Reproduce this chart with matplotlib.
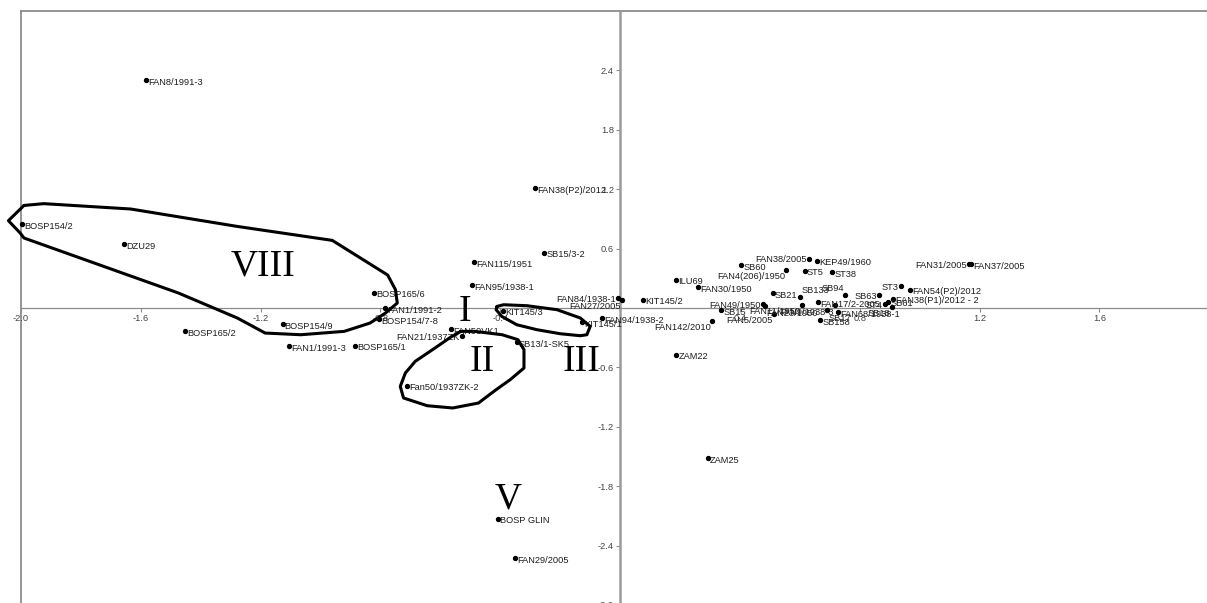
import matplotlib.pyplot as plt
import numpy as np

# factor scores of the samples (F1, F2)
names = [
    "FAN8/1991-3", "FAN38(P2)/2012", "BOSP154/2", "DZU29", "SB15/3-2",
    "FAN115/1951", "FAN95/1938-1", "BOSP165/6", "FAN84/1938-1", "FAN27/2005",
    "KIT145/2", "FAN1/1991-2", "BOSP154/7-8", "BOSP154/9", "BOSP165/2",
    "FAN1/1991-3", "BOSP165/1", "FAN50VK1", "FAN21/1937ZK", "KIT145/3",
    "SB13/1-SK5", "KIT145/1", "FAN94/1938-2", "Fan50/1937ZK-2", "BOSP GLIN",
    "FAN29/2005", "ZAM22", "ZAM25", "FAN142/2010", "SB15",
    "FAN5/2005", "FAN49/1950", "FAN23/1950", "ILU69", "FAN30/1950",
    "SB60", "FAN4(206)/1950", "FAN38/2005", "KEP49/1960", "ST5",
    "ST38", "SB21", "SB133", "SB94", "SB63",
    "ST3", "FAN54(P2)/2012", "FAN38(P1)/2012 - 2", "SB61", "ST4",
    "SB18", "FAN31/2005", "FAN37/2005", "SB158", "SB17",
    "FAN11/1950", "FAN17/2-2005", "FAN9/1938-3", "FAN68/1938-1",
]
f1 = [
    -1.583, -0.284, -1.995, -1.656, -0.254,
    -0.487, -0.493, -0.821, -0.008, 0.006,
    0.075, -0.785, -0.805, -1.127, -1.453,
    -1.106, -0.884, -0.563, -0.528, -0.391,
    -0.345, -0.128, -0.059, -0.713, -0.407,
    -0.350, 0.188, 0.293, 0.308, 0.338,
    0.513, 0.478, 0.482, 0.186, 0.259,
    0.404, 0.555, 0.632, 0.657, 0.616,
    0.708, 0.509, 0.600, 0.751, 0.865,
    0.937, 0.968, 0.912, 0.894, 0.884,
    0.906, 1.165, 1.170, 0.668, 0.691,
    0.606, 0.662, 0.717, 0.726,
]
f2 = [
    2.300, 1.210, 0.850, 0.646, 0.559,
    0.465, 0.228, 0.155, 0.100, 0.084,
    0.084, 0.000, -0.110, -0.162, -0.236,
    -0.388, -0.381, -0.212, -0.287, -0.027,
    -0.347, -0.141, -0.101, -0.785, -2.128,
    -2.529, -0.472, -1.515, -0.128, -0.024,
    -0.057, 0.043, 0.018, 0.286, 0.208,
    0.434, 0.384, 0.500, 0.478, 0.377,
    0.363, 0.151, 0.114, 0.135, 0.134,
    0.225, 0.185, 0.094, 0.064, 0.043,
    0.010, 0.445, 0.440, -0.121, -0.024,
    0.033, 0.057, 0.026, -0.040,
]

# where a label sits relative to its point (default: right)
label_pos = {
    "FAN84/1938-1": "l", "FAN27/2005": "lb", "FAN21/1937ZK": "l",
    "FAN142/2010": "lb", "FAN5/2005": "lb", "FAN49/1950": "l",
    "FAN23/1950": "rb", "FAN4(206)/1950": "lb", "FAN38/2005": "l",
    "SB133": "ra", "SB94": "la", "SB63": "l", "ST3": "l", "ST4": "l",
    "SB18": "lb", "FAN31/2005": "l", "SB17": "rb", "FAN11/1950": "lb",
    "FAN9/1938-3": "lb", "FAN17/2-2005": "r",
}
offsets = {
    "r": ((1.6, -1.6), "left"), "l": ((-1.6, -1.0), "right"),
    "rb": ((1.2, -5.5), "left"), "lb": ((-1.0, -5.0), "right"),
    "ra": ((1.0, 4.5), "left"), "la": ((-1.0, 4.5), "right"),
}

# hand-drawn group outlines
group_viii = np.array([
    (-1.990, 1.036), (-1.924, 1.054), (-1.634, 1.000), (-1.278, 0.824),
    (-0.961, 0.683), (-0.776, 0.333), (-0.750, 0.185), (-0.744, 0.050),
    (-0.783, -0.050), (-0.835, -0.152), (-0.921, -0.236), (-1.066, -0.270),
    (-1.185, -0.253), (-1.278, -0.101), (-1.475, 0.152), (-1.990, 0.707),
    (-2.003, 0.758), (-2.042, 0.882), (-1.990, 1.036),
])
group_ii = np.array([
    (-0.532, -0.236), (-0.486, -0.236), (-0.394, -0.270), (-0.341, -0.320),
    (-0.321, -0.421), (-0.321, -0.606), (-0.367, -0.724), (-0.414, -0.825),
    (-0.473, -0.960), (-0.559, -1.010), (-0.644, -0.987), (-0.723, -0.909),
    (-0.734, -0.792), (-0.717, -0.657), (-0.684, -0.539), (-0.618, -0.404),
    (-0.565, -0.293), (-0.532, -0.236),
])
group_iii = np.array([
    (-0.411, 0.016), (-0.389, 0.033), (-0.311, 0.023), (-0.211, -0.017),
    (-0.133, -0.101), (-0.100, -0.186), (-0.111, -0.270), (-0.133, -0.280),
    (-0.200, -0.260), (-0.278, -0.219), (-0.345, -0.169), (-0.395, -0.085),
    (-0.414, -0.017), (-0.411, 0.016),
])
group_names = ["VIII", "I", "II", "III", "V"]
group_x = [-1.191, -0.519, -0.460, -0.130, -0.374]
group_y = [0.418, -0.042, -0.539, -0.539, -1.936]

xticks = [-2.0, -1.6, -1.2, -0.8, -0.4, 0.4, 0.8, 1.2, 1.6]
yticks = [-3.0, -2.4, -1.8, -1.2, -0.6, 0.6, 1.2, 1.8, 2.4]

plt.rcParams['font.family'] = ['Liberation Sans', 'DejaVu Sans']

fig = plt.figure(figsize=(12.07, 6.03), dpi=100)
pos = [21 / 1207, -2 / 603, 1186 / 1207, 594 / 603]

# outer frame: only the left and top edges show
frame = fig.add_axes(pos)
frame.set_xticks([])
frame.set_yticks([])
for side, s in frame.spines.items():
    s.set_color('#8c8c8c')
    s.set_linewidth(1.3)
    if side in ('right', 'bottom'):
        s.set_visible(False)

ax = fig.add_axes(pos)
ax.patch.set_alpha(0)
ax.set_xlim(-2.0, 1.959)
ax.set_ylim(-3.0, 3.0)
ax.spines['left'].set_position(('data', 0))
ax.spines['bottom'].set_position(('data', 0))
ax.spines['left'].set_color('#9a9a9a')
ax.spines['left'].set_linewidth(1.8)
ax.spines['bottom'].set_color('#8c8c8c')
ax.spines['bottom'].set_linewidth(0.9)
ax.spines['top'].set_visible(False)
ax.spines['right'].set_visible(False)
ax.set_xticks(xticks)
ax.set_yticks(yticks)
ax.set_xticklabels(['%.1f' % t for t in xticks])
ax.set_yticklabels(['%.1f' % t for t in yticks])
ax.tick_params(axis='both', labelsize=6.7, labelcolor='#444444', color='#8c8c8c',
               length=3, width=0.8, pad=1.5)

ax.scatter(f1, f2, s=8, color='black', zorder=3, clip_on=False)
for n, x, y in zip(names, f1, f2):
    (dx, dy), ha = offsets[label_pos.get(n, "r")]
    ax.annotate(n, (x, y), xytext=(dx, dy), textcoords='offset points',
                ha=ha, va='center', fontsize=6.7, color='#1e1e1e', zorder=4)

for g in (group_viii, group_ii, group_iii):
    ax.plot(g[:, 0], g[:, 1], color='black', lw=2.2, solid_joinstyle='round',
            solid_capstyle='round', clip_on=False, zorder=5)

for n, x, y in zip(group_names, group_x, group_y):
    ax.text(x, y, n, ha='center', va='center', fontsize=27,
            family='Liberation Serif', color='black', zorder=5)

plt.savefig('out.png', dpi=100)
